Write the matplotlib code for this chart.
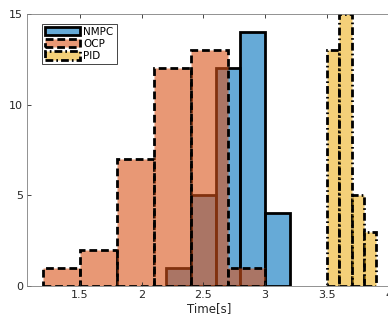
import numpy as np
import matplotlib.pyplot as plt

# bin edges and counts
nmpc_edges = [2.2, 2.4, 2.6, 2.8, 3.0, 3.2]
nmpc_counts = [1, 5, 12, 14, 4]
ocp_edges = [1.2, 1.5, 1.8, 2.1, 2.4, 2.7, 3.0]
ocp_counts = [1, 2, 7, 12, 13, 1]
pid_edges = [3.5, 3.6, 3.7, 3.8, 3.9]
pid_counts = [13, 15, 5, 3]

labels = ['NMPC', 'OCP', 'PID']
colors = [(0, 0.447, 0.741), (0.85, 0.325, 0.098), (0.929, 0.694, 0.125)]
styles = ['-', (0, (2.8, 1.4)), (0, (2.8, 1.1, 0.6, 1.1))]

fig = plt.figure(figsize=(3.88, 3.2), dpi=100)
ax = fig.add_axes([27 / 388, 34 / 320, 364 / 388, 272 / 320])

for edges, counts, c, ls, lab in zip([nmpc_edges, ocp_edges, pid_edges],
                                     [nmpc_counts, ocp_counts, pid_counts],
                                     colors, styles, labels):
    edges = np.array(edges)
    ax.bar(edges[:-1], counts, width=np.diff(edges), align='edge',
           facecolor=(*c, 0.6), edgecolor='k', linewidth=2.0,
           linestyle=ls, label=lab)

ax.set_xlim(1.07, 4.02)
ax.set_ylim(0, 15)
ax.set_xticks([1.5, 2, 2.5, 3, 3.5, 4])
ax.set_xticklabels(['1.5', '2', '2.5', '3', '3.5', '4'])
ax.set_yticks([0, 5, 10, 15])
ax.tick_params(direction='in', length=3, width=0.6, colors='#262626',
               labelsize=8, top=True, right=False, pad=3)
for s in ax.spines.values():
    s.set_linewidth(0.6)
    s.set_color('#808080')
ax.set_xlabel('Time[s]', fontsize=8.5, color='#262626', labelpad=1)

leg = ax.legend(loc='upper left', bbox_to_anchor=(0.04, 0.965), fontsize=7.5,
                handlelength=3.4, handleheight=0.9, handletextpad=0.3,
                borderpad=0.3, labelspacing=0.2, borderaxespad=0,
                fancybox=False, framealpha=1)
leg.get_frame().set_edgecolor('#262626')
leg.get_frame().set_linewidth(0.6)

fig.savefig('out.png', dpi=100)
